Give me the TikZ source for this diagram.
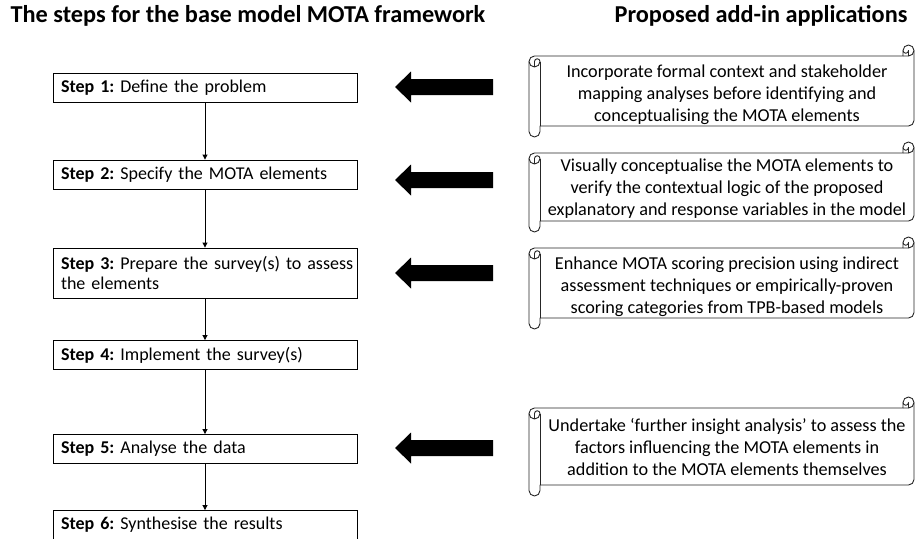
\documentclass[tikz,border=0pt]{standalone}
\usepackage{fontspec}
\setmainfont{Carlito}
\usetikzlibrary{arrows.meta}
\newcommand{\myscroll}[5]{%
  % #1=L #2=T #3=R #4=B #5=c  (pixel coords, y downward)
  \draw[scrollline,fill=white] (#1,{-(#2+1.5*#5)})
    arc[start angle=-180,end angle=-270,radius={#5/2}]
    -- ({#3-#5},{-(#2+#5)})
    -- ({#3-#5},{-(#2+#5/2)})
    arc[start angle=-180,end angle=-360,radius={#5/2}]
    -- (#3,{-(#4-1.5*#5)})
    arc[start angle=0,end angle=-90,radius={#5/2}]
    -- ({#1+#5},{-(#4-#5)})
    -- ({#1+#5},{-(#4-#5/2)})
    arc[start angle=0,end angle=-180,radius={#5/2}]
    -- cycle;
  \draw[scrollline] ({#3-#5},{-(#2+#5)}) -- ({#3-#5/2},{-(#2+#5)})
    arc[start angle=-90,end angle=0,radius={#5/2}];
  \draw[scrollline] ({#3-#5/2},{-(#2+#5)}) -- ({#3-#5/2},{-(#2+#5/2)})
    arc[start angle=0,end angle=-180,radius={#5/4}];
  \draw[scrollline] ({#1+#5/2},{-(#2+2*#5)}) -- ({#1+#5/2},{-(#2+1.5*#5)})
    arc[start angle=-180,end angle=-360,radius={#5/4}]
    arc[start angle=0,end angle=-180,radius={#5/2}];
  \draw[scrollline] ({#1+#5},{-(#2+1.5*#5)}) -- ({#1+#5},{-(#4-#5)});
}
\newcommand{\blockarrow}[1]{%
  \fill[black] (493,{-(#1-8)}) -- (411,{-(#1-8)}) -- (411,{-(#1-15.5)})
    -- (395,{-#1}) -- (411,{-(#1+15.5)}) -- (411,{-(#1+8)}) -- (493,{-(#1+8)}) -- cycle;
}
\begin{document}
\frenchspacing
\begin{tikzpicture}[x=1pt,y=1pt,
  scrollline/.style={draw=black!85,line width=0.9pt,line join=round},
  stepbox/.style={draw=black,line width=0.9pt,fill=white,text width=288pt,
    inner xsep=8pt,inner ysep=0pt,align=left,font=\fontsize{18}{20}\selectfont,
    minimum height=29pt},
  scrolltext/.style={align=center,font=\fontsize{18.2}{22}\selectfont,inner sep=0pt},
  titletext/.style={font=\bfseries\fontsize{24.3}{28}\selectfont,inner sep=0pt},
  conn/.style={draw=black,line width=0.9pt,-{Triangle[length=5pt,width=5pt]}}]
\useasboundingbox (0,0) rectangle (915,-538);

\node[titletext] (t1) at (248,-16) {The steps for the base model MOTA framework};
\node[titletext] (t2) at (761,-16) {Proposed add-in applications};

\node[stepbox] (s1) at (205,-87.5) {\mbox{\textbf{Step 1:} Define the problem}};
\node[stepbox] (s2) at (205,-174.5) {\mbox{\textbf{Step 2:} Specify the MOTA elements}};
\node[stepbox,minimum height=50pt] (s3) at (205,-273) {\mbox{\textbf{Step 3:} Prepare the survey(s) to assess}\\\mbox{the elements}};
\node[stepbox] (s4) at (205,-355) {\mbox{\textbf{Step 4:} Implement the survey(s)}};
\node[stepbox] (s5) at (205,-449) {\mbox{\textbf{Step 5:} Analyse the data}};
\node[stepbox] (s6) at (205,-525) {\mbox{\textbf{Step 6:} Synthesise the results}};

\draw[conn] (s1) -- (s2);
\draw[conn] (s2) -- (s3);
\draw[conn] (s3) -- (s4);
\draw[conn] (s4) -- (s5);
\draw[conn] (s5) -- (s6);

\blockarrow{87}
\blockarrow{180}
\blockarrow{273}
\blockarrow{448}

\myscroll{529}{45}{914}{137}{11}
\myscroll{529}{142}{914}{232}{11}
\myscroll{529}{237}{914}{329}{11}
\myscroll{529}{397}{914}{496}{11}

\node[scrolltext] (a1) at (727,-94.5) {Incorporate formal context and stakeholder\\mapping analyses before identifying and\\conceptualising the MOTA elements};
\node[scrolltext] (a2) at (727,-189) {Visually conceptualise the MOTA elements to\\verify the contextual logic of the proposed\\explanatory and response variables in the model};
\node[scrolltext] (a3) at (727,-286.5) {Enhance MOTA scoring precision using indirect\\assessment techniques or empirically-proven\\scoring categories from TPB-based models};
\node[scrolltext] (a4) at (727,-447) {Undertake `further insight analysis' to assess the\\factors influencing the MOTA elements in\\addition to the MOTA elements themselves};
\end{tikzpicture}
\end{document}
